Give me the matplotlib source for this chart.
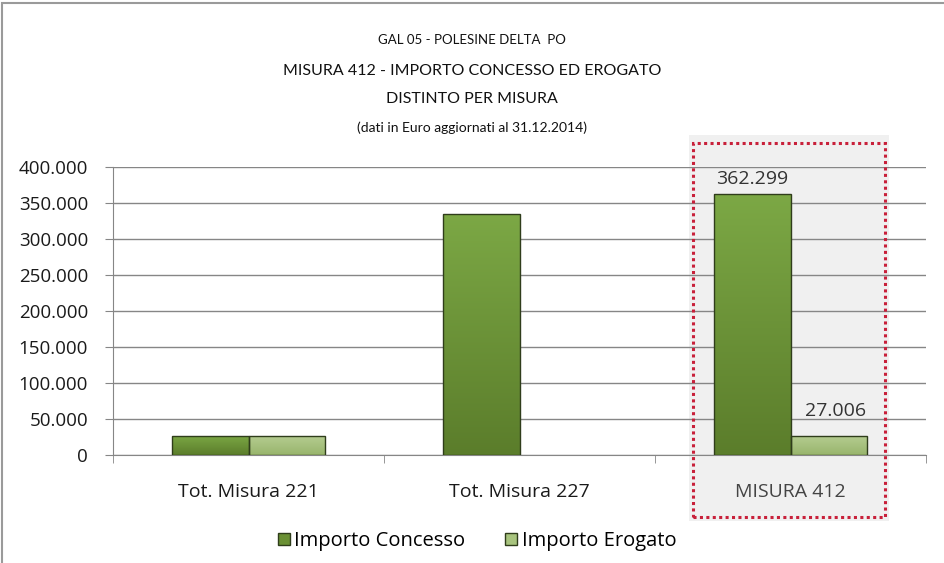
import numpy as np
import matplotlib.pyplot as plt
from matplotlib.patches import Rectangle
from matplotlib.colors import LinearSegmentedColormap
from matplotlib.ticker import FuncFormatter

# Data
categories = ['Tot. Misura 221', 'Tot. Misura 227', 'MISURA 412']
concesso = [27000, 335299, 362299]
erogato = [27006, 0, 27006]
series_names = ['Importo Concesso', 'Importo Erogato']
title_lines = ['GAL 05 - POLESINE DELTA  PO',
               'MISURA 412 - IMPORTO CONCESSO ED EROGATO',
               'DISTINTO PER MISURA',
               '(dati in Euro aggiornati al 31.12.2014)']

plt.rcParams['font.family'] = ['Open Sans', 'DejaVu Sans']

W, H = 944, 563
fig = plt.figure(figsize=(W / 100, H / 100), dpi=100)
fig.patch.set_facecolor('white')

# frame around the chart
fig.patches.append(Rectangle((0.002, -0.01), 1.2, 1.005, transform=fig.transFigure,
                             fill=False, edgecolor='#9a9a9a', linewidth=1.5))

# shaded highlight behind Misura 412
fig.patches.append(Rectangle((689 / W, 1 - 521 / H), 200 / W, 386 / H,
                             transform=fig.transFigure, facecolor='#f0f0f0',
                             edgecolor='none', zorder=-1))
fig.patches.append(Rectangle((693 / W, 1 - 517 / H), 192 / W, 374 / H,
                             transform=fig.transFigure, fill=False,
                             edgecolor='#c8203a', linewidth=2.2, linestyle=(0, (1, 1.1)),
                             zorder=5))

ax = fig.add_axes([113 / W, 1 - 455 / H, 813 / W, 288 / H], zorder=2)
ax.set_facecolor('none')

x = np.arange(len(categories))
w = 0.283
b1 = ax.bar(x - w / 2, concesso, w, color='#6a9034', edgecolor='#2f3d1b',
            linewidth=1, label=series_names[0], zorder=3)
b2 = ax.bar(x + w / 2, erogato, w, color='#a8c47e', edgecolor='#2f3d1b',
            linewidth=1, label=series_names[1], zorder=3)
b2[1].set_visible(False)

# vertical gradient fill inside each bar (lighter on top)
grad = np.linspace(0, 1, 256).reshape(-1, 1)
cm1 = LinearSegmentedColormap.from_list('c1', ['#7ca845', '#5b7d2b'])
cm2 = LinearSegmentedColormap.from_list('c2', ['#b6cd92', '#98b56c'])
for bars, cm in [(b1, cm1), (b2, cm2)]:
    for r in bars:
        if r.get_height() <= 0:
            continue
        x0, y0 = r.get_x(), r.get_y()
        im = ax.imshow(grad, cmap=cm, aspect='auto', zorder=3.2,
                       extent=[x0, x0 + r.get_width(), y0, y0 + r.get_height()])
        im.set_clip_path(r)
        r.set_facecolor('none')
        r.set_zorder(3.5)

ax.set_xlim(-0.5, len(categories) - 0.5)
ax.set_ylim(0, 400000)
ax.set_aspect('auto')
ax.set_yticks(np.arange(0, 400001, 50000))
ax.yaxis.set_major_formatter(FuncFormatter(lambda v, p: f'{int(v):,}'.replace(',', '.')))
ax.grid(axis='y', color='#868686', linewidth=1, zorder=0)
ax.set_axisbelow(True)

ax.set_xticks(x)
ax.set_xticklabels(categories, fontsize=14, color='#1a1a1a')
ax.set_xticks(np.arange(-0.5, len(categories)), minor=True)
ax.tick_params(axis='x', which='major', length=0, pad=20)
ax.tick_params(axis='x', which='minor', length=6, color='#868686')
ax.tick_params(axis='y', length=6, color='#868686', labelsize=13.5, labelcolor='#1a1a1a', pad=12)
ax.get_xticklabels()[2].set_color('#444444')

for s in ['top', 'right']:
    ax.spines[s].set_visible(False)
ax.spines['left'].set_color('#868686')
ax.spines['bottom'].set_color('#868686')

# value labels for Misura 412
ax.annotate('362.299', (x[2] - w / 2, concesso[2]), xytext=(0, 11), textcoords='offset points',
            ha='center', va='center', fontsize=14, color='#333333')
ax.annotate('27.006', (x[2] + w / 2, erogato[2]), xytext=(5, 18), textcoords='offset points',
            ha='center', va='center', fontsize=14, color='#333333')

# titles
title_font = ['Lato', 'DejaVu Sans']
fig.text(0.5, 1 - 40 / H, title_lines[0], ha='center', va='center', fontsize=9.5,
         color='#111111', family=title_font)
fig.text(0.5, 1 - 71 / H, title_lines[1], ha='center', va='center', fontsize=11.5,
         color='#111111', family=title_font)
fig.text(0.5, 1 - 99 / H, title_lines[2], ha='center', va='center', fontsize=11.5,
         color='#111111', family=title_font)
fig.text(0.5, 1 - 128 / H, title_lines[3], ha='center', va='center', fontsize=10,
         color='#111111', family=title_font)

fig.legend(handles=[b1, b2], labels=series_names, loc='center', ncol=2,
           bbox_to_anchor=(477 / W, 1 - 541 / H), frameon=False, fontsize=14.5,
           handlelength=0.6, handleheight=0.6, handletextpad=0.2, columnspacing=2.0)
for h, c in zip(fig.legends[0].legend_handles, ['#6a9034', '#a8c47e']):
    h.set_facecolor(c)

fig.savefig('out.png', dpi=100)
